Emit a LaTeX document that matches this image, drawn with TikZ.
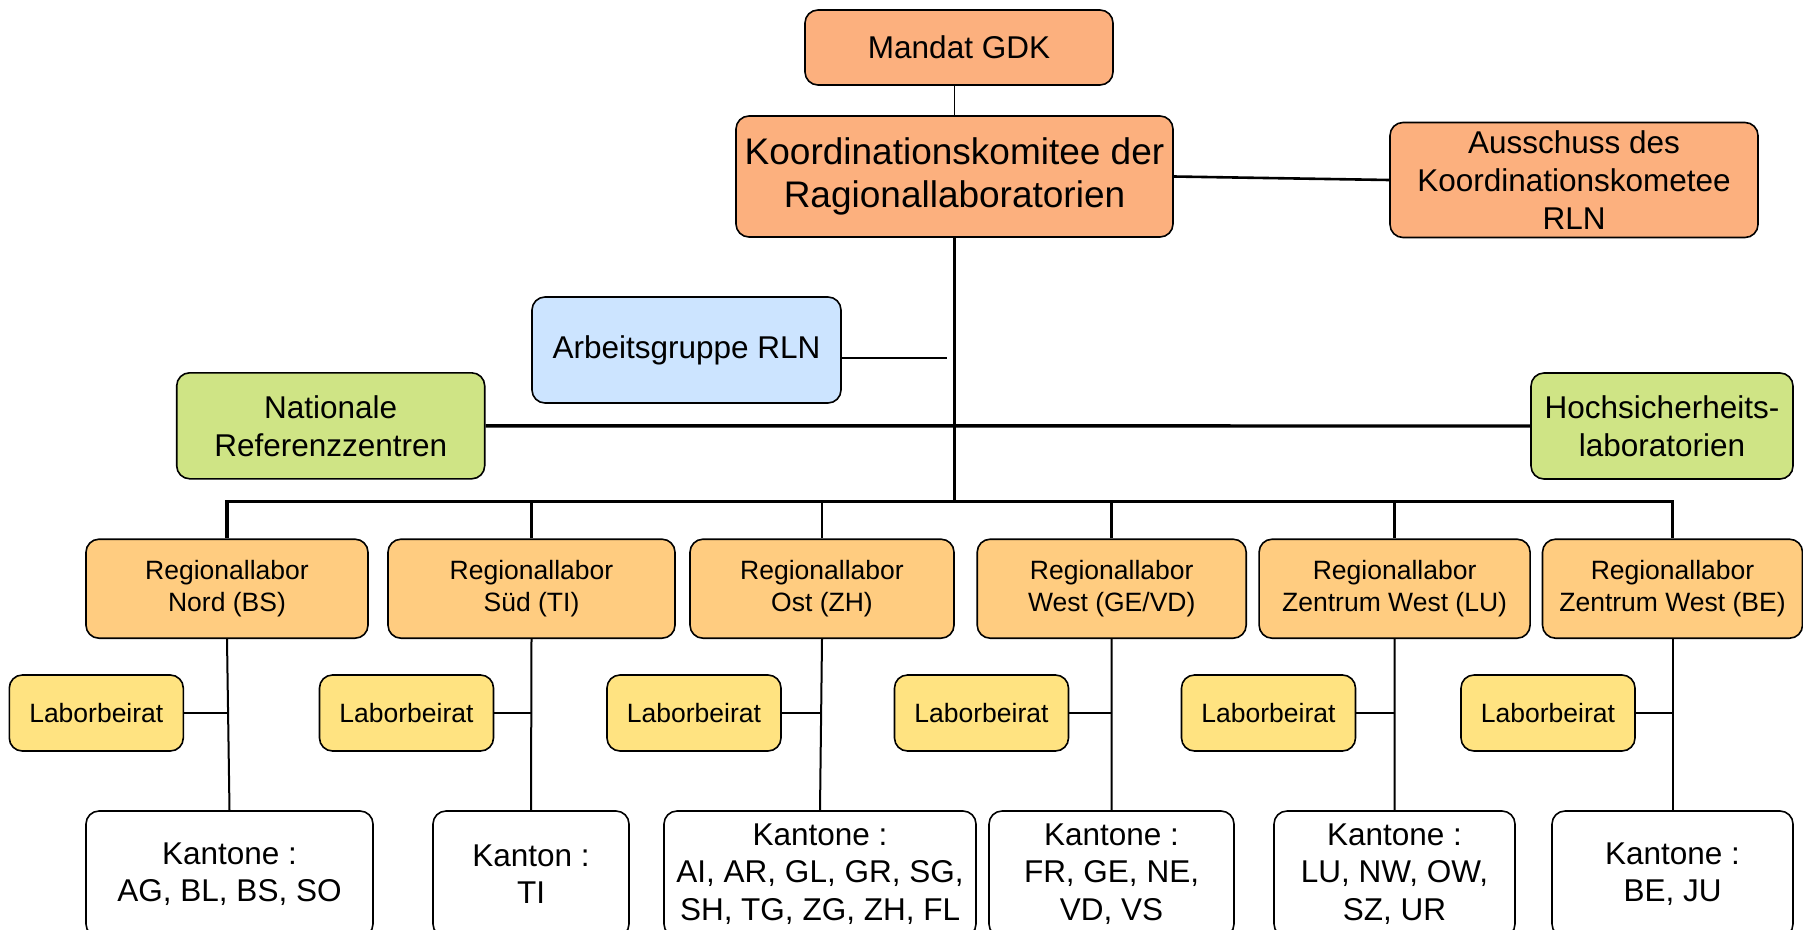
\documentclass[tikz,border=0pt]{standalone}
\usepackage{fontspec}
\setmainfont{Liberation Sans}
\definecolor{salmon}{RGB}{252,176,126}
\definecolor{skyblue}{RGB}{204,228,255}
\definecolor{limegreen}{RGB}{207,228,133}
\definecolor{labororange}{RGB}{255,204,128}
\definecolor{beiratyellow}{RGB}{255,227,129}

\begin{document}
\begin{tikzpicture}[
    x=1pt, y=-1pt,
    box/.style={draw, rounded corners=13pt, align=center, line width=1.6pt, inner sep=0pt},
    head/.style={box, fill=salmon, font=\fontsize{31.5}{38}\selectfont},
    group/.style={box, fill=skyblue, font=\fontsize{31.5}{38}\selectfont, minimum width=309, minimum height=106},
    side/.style={box, fill=limegreen, font=\fontsize{31.5}{38}\selectfont, minimum height=106},
    lab/.style={box, fill=labororange, font=\fontsize{26.5}{32}\selectfont, minimum height=99},
    beirat/.style={box, fill=beiratyellow, font=\fontsize{26.5}{32}\selectfont, minimum width=174, minimum height=76},
    canton/.style={box, fill=white, font=\fontsize{31.5}{37.5}\selectfont, minimum height=126},
    trunk/.style={line width=3.8pt},
    bus/.style={line width=3.4pt},
    drop/.style={line width=2.5pt},
    link/.style={line width=2pt}
]
\useasboundingbox (0,0) rectangle (1803,929);

\node[head, minimum width=308, minimum height=75] (mandat) at (959,47.5) {Mandat GDK};
\node[head, minimum width=437, minimum height=121, font=\fontsize{37}{42.5}\selectfont] (koord) at (954.5,176.5) {Koordinationskomitee der\\Ragionallaboratorien};
\node[head, minimum width=368, minimum height=115] (aus) at (1574,180) {Ausschuss des\\Koordinationskometee\\RLN};
\node[group] (ag) at (686.5,350) {Arbeitsgruppe RLN};
\node[side, minimum width=308] (nrz) at (330.7,425.8) {Nationale\\Referenzzentren};
\node[side, minimum width=262] (hsl) at (1662,426) {Hochsicherheits-\\laboratorien};

\node[lab, minimum width=282] (r1) at (227,588.7) {Regionallabor\\Nord (BS)};
\node[lab, minimum width=287] (r2) at (531.5,588.7) {Regionallabor\\Süd (TI)};
\node[lab, minimum width=264] (r3) at (822,588.7) {Regionallabor\\Ost (ZH)};
\node[lab, minimum width=269] (r4) at (1111.7,588.7) {Regionallabor\\West (GE/VD)};
\node[lab, minimum width=271] (r5) at (1394.6,588.7) {Regionallabor\\Zentrum West (LU)};
\node[lab, minimum width=260] (r6) at (1672.5,588.7) {Regionallabor\\Zentrum West (BE)};

\node[beirat] (lb1) at (96.3,713) {Laborbeirat};
\node[beirat] (lb2) at (406.5,713) {Laborbeirat};
\node[beirat] (lb3) at (694,713) {Laborbeirat};
\node[beirat] (lb4) at (981.5,713) {Laborbeirat};
\node[beirat] (lb5) at (1268.5,713) {Laborbeirat};
\node[beirat] (lb6) at (1548,713) {Laborbeirat};

\node[canton, minimum width=287] (k1) at (229.5,874) {Kantone :\\AG, BL, BS, SO};
\node[canton, minimum width=196] (k2) at (531,874) {Kanton :\\TI};
\node[canton, minimum width=312] (k3) at (820,874) {Kantone :\\AI, AR, GL, GR, SG,\\SH, TG, ZG, ZH, FL};
\node[canton, minimum width=245] (k4) at (1111.5,874) {Kantone :\\FR, GE, NE,\\VD, VS};
\node[canton, minimum width=241] (k5) at (1394.5,874) {Kantone :\\LU, NW, OW,\\SZ, UR};
\node[canton, minimum width=241] (k6) at (1672.5,874) {Kantone :\\BE, JU};

\coordinate (bus) at (954.5,501.5);
\coordinate (agend) at (947,358);

\draw[line width=1pt] (koord.north) -- (koord.north |- mandat.south);
\draw[line width=2.6pt] (koord.east) -- (aus.west);
\draw[trunk] (koord.south) -- (bus);
\draw[link] (ag.east |- agend) -- (agend);
\draw[bus] (nrz.east) -- (hsl.west);
\draw[bus] (r1.north) |- (r6.north |- bus) -- (r6.north);
\foreach \i in {2,...,5}
    \draw[drop] (r\i.north) -- (r\i.north |- bus);
\foreach \i in {1,...,6} {
    \draw[link] (r\i.south) -- (k\i.north);
    \draw[link] (lb\i.east) -- (lb\i.east -| r\i.south);
}
\end{tikzpicture}
\end{document}
